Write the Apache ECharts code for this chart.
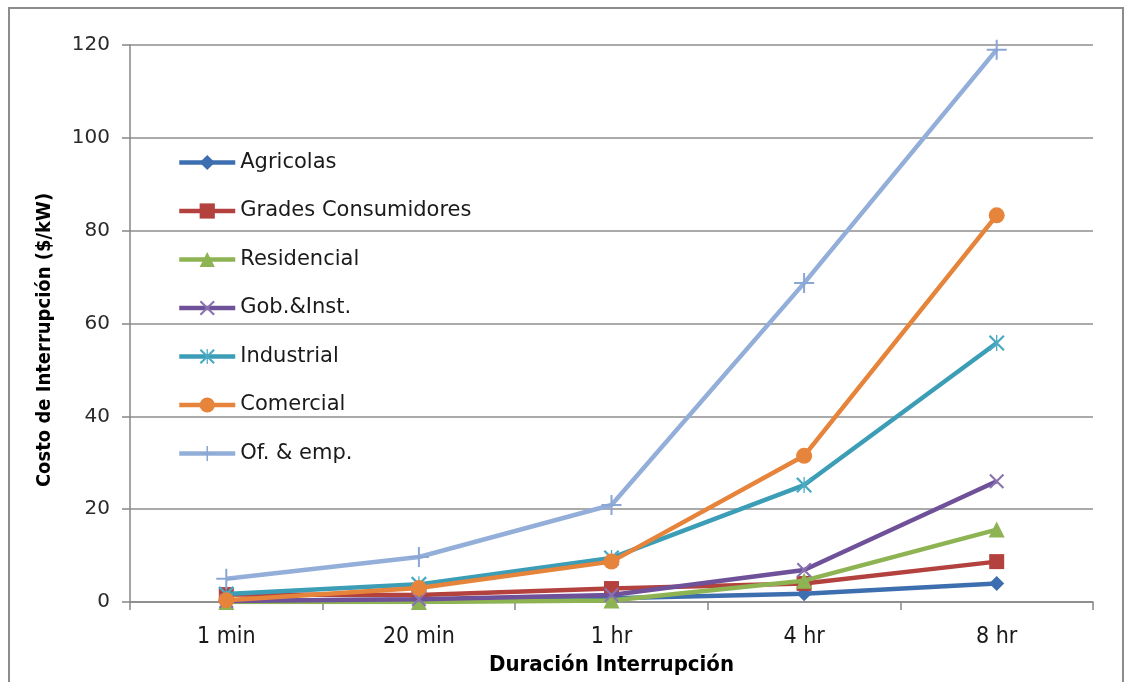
<!DOCTYPE html>
<html>
<head>
<meta charset="utf-8">
<script src="https://cdn.jsdelivr.net/npm/echarts@6/dist/echarts.min.js"></script>
<style>
  html, body { margin: 0; padding: 0; background: #ffffff; }
  #chart { width: 1124px; height: 682px; }
</style>
</head>
<body>
<div id="chart"></div>
<script>
// Interruption cost by customer sector and outage duration ($/kW)
const durations = ['1 min', '20 min', '1 hr', '4 hr', '8 hr'];
const yTicks = [0, 20, 40, 60, 80, 100, 120];

const agricolas   = [0.3, 0.5, 0.8, 1.8, 4.0];
const grades      = [1.6, 1.5, 2.9, 4.0, 8.7];
const residencial = [0.0, 0.0, 0.3, 4.6, 15.6];
const gobInst     = [0.2, 0.6, 1.5, 6.9, 26.0];
const industrial  = [1.7, 3.8, 9.5, 25.2, 55.8];
const comercial   = [0.4, 3.0, 8.7, 31.5, 83.3];
const ofEmp       = [5.0, 9.7, 20.9, 68.7, 119.0];

const names = ['Agricolas', 'Grades Consumidores', 'Residencial', 'Gob.&Inst.', 'Industrial', 'Comercial', 'Of. & emp.'];
const values = [agricolas, grades, residencial, gobInst, industrial, comercial, ofEmp];

const yTitle = 'Costo de Interrupción ($/kW)';
const xTitle = 'Duración Interrupción';

// Marker shapes drawn as filled outlines
const xMark = 'path://M0,1 L1,0 L10,9 L9,10 Z M9,0 L10,1 L1,10 L0,9 Z';
const starMark = 'path://M0,1 L1,0 L10,9 L9,10 Z M9,0 L10,1 L1,10 L0,9 Z M4.6,0 L5.4,0 L5.4,10 L4.6,10 Z';
const plusMark = 'path://M4.5,0 L5.5,0 L5.5,4.5 L10,4.5 L10,5.5 L5.5,5.5 L5.5,10 L4.5,10 L4.5,5.5 L0,5.5 L0,4.5 L4.5,4.5 Z';

const styles = [
  { color: '#3D6FB0', symbol: 'diamond',  size: 15, mark: '#3D6FB0' },
  { color: '#B3413E', symbol: 'rect',     size: 15, mark: '#B3413E' },
  { color: '#8DB352', symbol: 'triangle', size: 16, mark: '#8DB352' },
  { color: '#6F519A', symbol: xMark,      size: 15, mark: '#8A72AE' },
  { color: '#3B9DB6', symbol: starMark,   size: 16, mark: '#4AA9C3' },
  { color: '#E5843A', symbol: 'circle',   size: 16, mark: '#E5843A' },
  { color: '#93AFD9', symbol: plusMark,   size: 20, mark: '#8AA6D4' }
];

const series = names.map((n, i) => ({
  name: n,
  type: 'line',
  data: values[i],
  symbol: styles[i].symbol,
  symbolSize: styles[i].size,
  showAllSymbol: true,
  lineStyle: { color: styles[i].color, width: 4.5 },
  itemStyle: { color: styles[i].mark },
  emphasis: { disabled: true },
  z: 2 + i
}));

const boldFont = 'DejaVu Sans Condensed, DejaVu Sans';

const chart = echarts.init(document.getElementById('chart'), null, { renderer: 'canvas' });
chart.setOption({
  animation: false,
  backgroundColor: '#ffffff',
  textStyle: { fontFamily: 'DejaVu Sans' },
  graphic: [{
    type: 'rect',
    shape: { x: 9, y: 8, width: 1114, height: 700 },
    style: { fill: 'none', stroke: '#8c8c8c', lineWidth: 2 },
    z: 0
  }, {
    type: 'text',
    x: 45,
    y: 340,
    rotation: Math.PI / 2,
    style: {
      text: yTitle,
      fontFamily: boldFont,
      fontWeight: 'bold',
      fontSize: 20,
      fill: '#000',
      align: 'center',
      verticalAlign: 'middle'
    }
  }],
  grid: { left: 130, right: 31, top: 45, bottom: 80, containLabel: false },
  legend: {
    orient: 'vertical',
    left: 172,
    top: 147,
    itemWidth: 56,
    itemHeight: 19,
    itemGap: 27.5,
    data: names,
    lineStyle: { width: 4.5 },
    textStyle: { fontFamily: 'DejaVu Sans', fontSize: 21, color: '#1a1a1a' }
  },
  xAxis: {
    type: 'category',
    data: durations,
    boundaryGap: true,
    name: xTitle,
    nameLocation: 'middle',
    nameGap: 52,
    nameTextStyle: { fontFamily: boldFont, fontWeight: 'bold', fontSize: 22, color: '#000' },
    axisLine: { lineStyle: { color: '#868686', width: 1.5 } },
    axisTick: { show: true, length: 8, interval: 0, lineStyle: { color: '#868686', width: 1.5 } },
    axisLabel: { margin: 24, fontFamily: boldFont, fontSize: 23, color: '#1a1a1a' },
    splitLine: { show: false }
  },
  yAxis: {
    type: 'value',
    min: yTicks[0],
    max: yTicks[yTicks.length - 1],
    interval: yTicks[1] - yTicks[0],
    axisLine: { show: true, lineStyle: { color: '#868686', width: 1.5 } },
    axisTick: { show: true, length: 8, lineStyle: { color: '#868686', width: 1.5 } },
    axisLabel: { margin: 20, fontFamily: 'DejaVu Sans', fontSize: 20, color: '#2a2a2a' },
    splitLine: { show: true, lineStyle: { color: '#8e8e8e', width: 1.5 } }
  },
  series: series
});
</script>
</body>
</html>
